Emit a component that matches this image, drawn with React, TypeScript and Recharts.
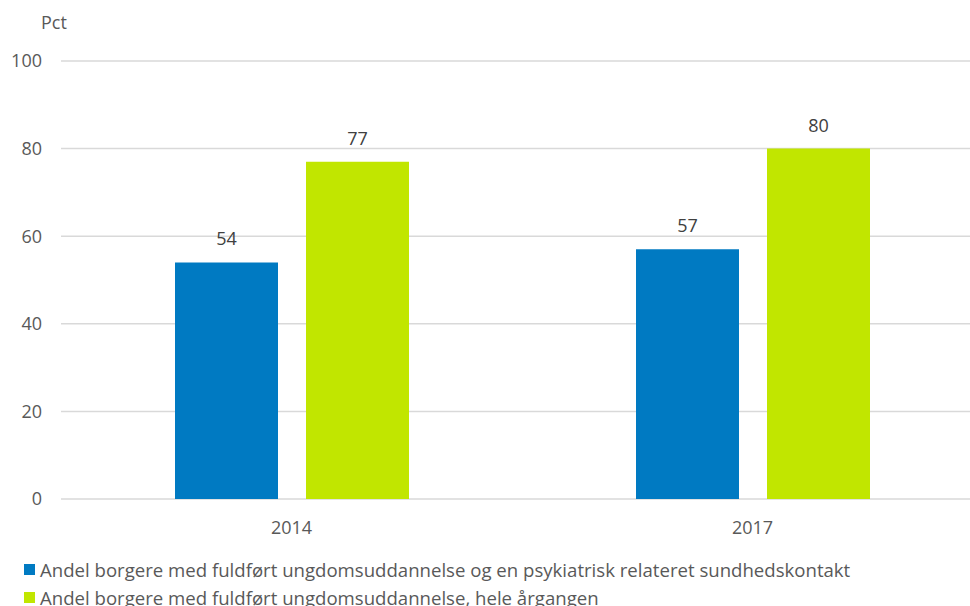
import { Bar, BarChart, CartesianGrid, LabelList, Legend, XAxis, YAxis } from "recharts";

const YEARS = ["2014", "2017"];
const PSYK = [54, 57];
const HELE = [77, 80];
const Y_TICKS = [0, 20, 40, 60, 80, 100];

const SERIES = [
  { key: "psyk", name: "Andel borgere med fuldført ungdomsuddannelse og en psykiatrisk relateret sundhedskontakt", color: "#007AC2" },
  { key: "hele", name: "Andel borgere med fuldført ungdomsuddannelse, hele årgangen", color: "#C1E600" },
] as const;

const data = YEARS.map((year, i) => ({ year, psyk: PSYK[i], hele: HELE[i] }));

const FONT = '"Open Sans", sans-serif';
const TEXT = "#595959";

function LegendRows() {
  return (
    <div style={{ fontFamily: FONT, fontSize: 18.6, color: TEXT }}>
      {SERIES.map((s) => (
        <div key={s.key} style={{ display: "flex", alignItems: "center", height: 28.5, whiteSpace: "nowrap" }}>
          <span style={{ width: 11, height: 11, background: s.color, marginRight: 5, display: "inline-block" }} />
          <span>{s.name}</span>
        </div>
      ))}
    </div>
  );
}

export default function App() {
  return (
    <div style={{ position: "fixed", left: 0, top: 0, width: 970, height: 606, overflow: "hidden", background: "#fff" }}>
      <div style={{ position: "absolute", left: 41, top: 10, fontFamily: FONT, fontSize: 18, lineHeight: "24px", color: TEXT }}>
        Pct
      </div>
      <BarChart
        width={983}
        height={606}
        data={data}
        margin={{ top: 61, right: 0, left: 0, bottom: 77 }}
        barSize={103}
        barGap={28}
      >
        <CartesianGrid stroke="#D9D9D9" strokeWidth={1.5} vertical={false} />
        <XAxis
          dataKey="year"
          height={30}
          axisLine={false}
          tickLine={false}
          tickSize={0}
          tickMargin={22}
          tick={{ fill: TEXT, fontSize: 18, fontFamily: FONT }}
        />
        <YAxis
          domain={[0, 100]}
          ticks={Y_TICKS}
          width={61}
          axisLine={false}
          tickLine={false}
          tickSize={0}
          tickMargin={19}
          tick={{ fill: TEXT, fontSize: 18, fontFamily: FONT }}
        />
        <Legend
          layout="horizontal"
          verticalAlign="middle"
          align="center"
          content={() => <LegendRows />}
          wrapperStyle={{ left: 24, top: 555, width: 940 }}
        />
        {SERIES.map((s) => (
          <Bar key={s.key} dataKey={s.key} name={s.name} fill={s.color} isAnimationActive={false}>
            <LabelList dataKey={s.key} position="top" offset={17} fill="#404040" fontSize={18} fontFamily={FONT} />
          </Bar>
        ))}
      </BarChart>
    </div>
  );
}
